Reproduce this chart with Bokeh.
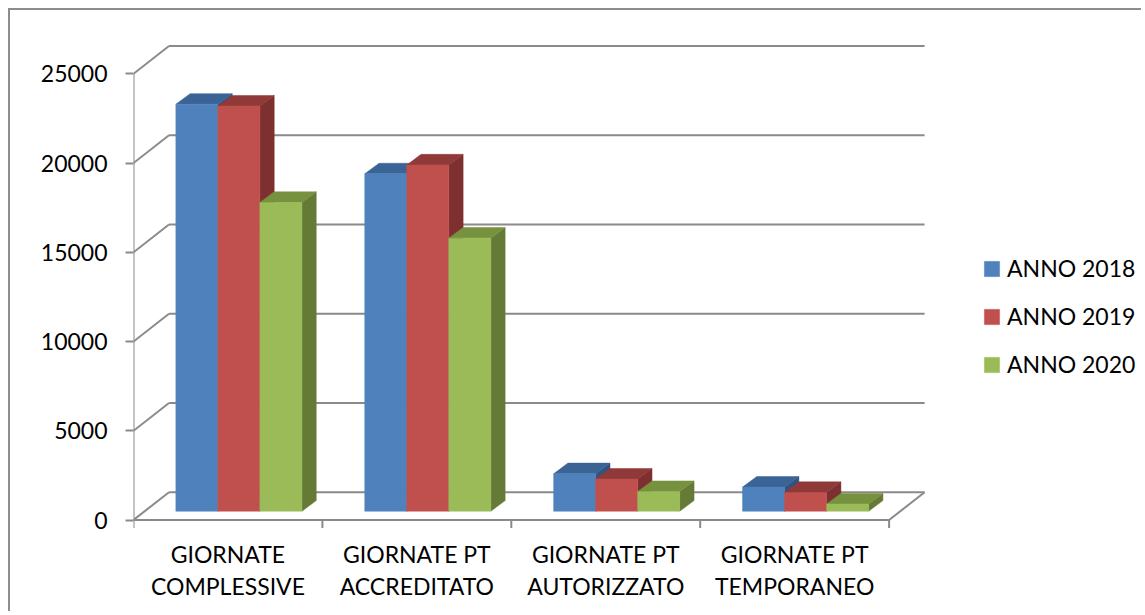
from bokeh.plotting import figure
from bokeh.models import Range1d, FixedTicker, Legend, LegendItem
from bokeh.embed import file_html
from bokeh.resources import INLINE
from bokeh.core.properties import value

# ---------------- data ----------------
categories = ["GIORNATE\nCOMPLESSIVE", "GIORNATE PT\nACCREDITATO",
              "GIORNATE PT\nAUTORIZZATO", "GIORNATE PT\nTEMPORANEO"]
series_names = ["ANNO 2018", "ANNO 2019", "ANNO 2020"]
anno_2018 = [22800, 18900, 2100, 1350]
anno_2019 = [22700, 19400, 1800, 1050]
anno_2020 = [17300, 15300, 1100, 400]
y_ticks = [0, 5000, 10000, 15000, 20000, 25000]

series_values = [anno_2018, anno_2019, anno_2020]

# ---------------- style ----------------
FONT = "Lato"
FS = "23px"
front_colors = ["#4F81BD", "#C0504D", "#9BBB59"]
side_colors = ["#2F5382", "#7D302F", "#657A36"]
top_colors = ["#3B6496", "#8F3A38", "#77923F"]
GRID = "#8A8A8A"

# geometry (pixels)
OX, OY = 10, 10            # canvas origin on page (margin 8 + css border 2)
W, H = 1133, 603
ML, MR, MT, MB = 123, 7, 10, 0
AX_X, AX_Y = 133.0, 519.5  # page position of front axis origin (x=0, y=0)
PX_X = 188.9               # px per category
PX_Y = 446.2 / 25000       # px per value unit

fl, fr = OX + ML, OX + W - MR
ft, fb = OY + MT, OY + H
x_range = Range1d((fl - AX_X) / PX_X, (fr - AX_X) / PX_X)
y_range = Range1d(-(fb - AX_Y) / PX_Y, (AX_Y - ft) / PX_Y)

# oblique depth offsets in data units
BX, BY = 35.5 / PX_X, 27.8 / PX_Y      # back wall
FX, FY = 11.0 / PX_X, 8.8 / PX_Y       # front plane of bars
DX, DY = 14.3 / PX_X, 10.6 / PX_Y      # bar depth
GAP = 0.166
BW = 0.2225
TICK = 8 / PX_Y

p = figure(width=W, height=H, output_backend="svg", toolbar_location=None,
           x_range=x_range, y_range=y_range, x_axis_location=None,
           min_border_left=ML, min_border_right=MR, min_border_top=MT,
           min_border_bottom=MB)
p.styles = {"margin-left": "8px", "margin-top": "8px",
            "border-top": "2px solid #8D8D8D", "border-left": "2px solid #8D8D8D"}
p.outline_line_color = None
p.xgrid.visible = False
p.ygrid.visible = False
p.background_fill_color = "white"
p.border_fill_color = "white"

ax = p.yaxis[0]
ax.ticker = FixedTicker(ticks=y_ticks)
ax.axis_line_color = None
ax.major_tick_out = 8
ax.major_tick_in = 0
ax.major_tick_line_color = GRID
ax.major_tick_line_width = 2
ax.minor_tick_line_color = None
ax.major_label_standoff = 18
ax.major_label_text_font = FONT
ax.major_label_text_font_size = FS
ax.major_label_text_color = "black"

# ---------------- walls / gridlines ----------------
x0s, y0s, x1s, y1s = [], [], [], []
n = len(categories)
for v in y_ticks:
    x0s += [0, BX]
    y0s += [v, v + BY]
    x1s += [BX, n + BX]
    y1s += [v + BY, v + BY]
# floor front and right edge, front axis line, category ticks
x0s += [0, n, 0]
y0s += [0, 0, 0]
x1s += [n, n + BX, 0]
y1s += [0, BY, y_ticks[-1]]
for c in range(n + 1):
    x0s.append(c); y0s.append(0); x1s.append(c); y1s.append(-TICK)
p.segment(x0s, y0s, x1s, y1s, line_color=GRID, line_width=2)

# ---------------- bars ----------------
front_renderers = []
for s, vals in enumerate(series_values):
    lefts = [c + GAP + s * BW + FX for c in range(n)]
    rights = [l + BW for l in lefts]
    side_xs, side_ys, top_xs, top_ys = [], [], [], []
    for l, r, v in zip(lefts, rights, vals):
        side_xs.append([r, r + DX, r + DX, r])
        side_ys.append([FY, FY + DY, v + FY + DY, v + FY])
        top_xs.append([l, l + DX, r + DX, r])
        top_ys.append([v + FY, v + FY + DY, v + FY + DY, v + FY])
    p.patches(side_xs, side_ys, fill_color=side_colors[s], line_color=side_colors[s], line_width=0.5)
    p.patches(top_xs, top_ys, fill_color=top_colors[s], line_color=top_colors[s], line_width=0.5)
    fr_ = p.quad(left=lefts, right=rights, bottom=[FY] * n, top=[v + FY for v in vals],
                 fill_color=front_colors[s], line_color=front_colors[s], line_width=0.5)
    front_renderers.append(fr_)

# ---------------- category labels ----------------
lab_y = -(569.2 - AX_Y) / PX_Y
p.text(x=[c + 0.5 for c in range(n)], y=[lab_y] * n, text=categories,
       text_align="center", text_baseline="middle", text_font=value(FONT),
       text_font_size=FS, text_color="black", text_line_height=1.15)

# ---------------- legend ----------------
legend = Legend(items=[LegendItem(label=series_names[i], renderers=[front_renderers[i]])
                       for i in range(3)],
                location=(849, 235), glyph_width=19, glyph_height=19,
                label_standoff=6, spacing=20, padding=0, margin=0,
                label_height=28, border_line_color=None, background_fill_alpha=0,
                label_text_font=FONT, label_text_font_size=FS, label_text_color="black")
p.add_layout(legend, "center")

open("out.html", "w").write(file_html(p, INLINE))
